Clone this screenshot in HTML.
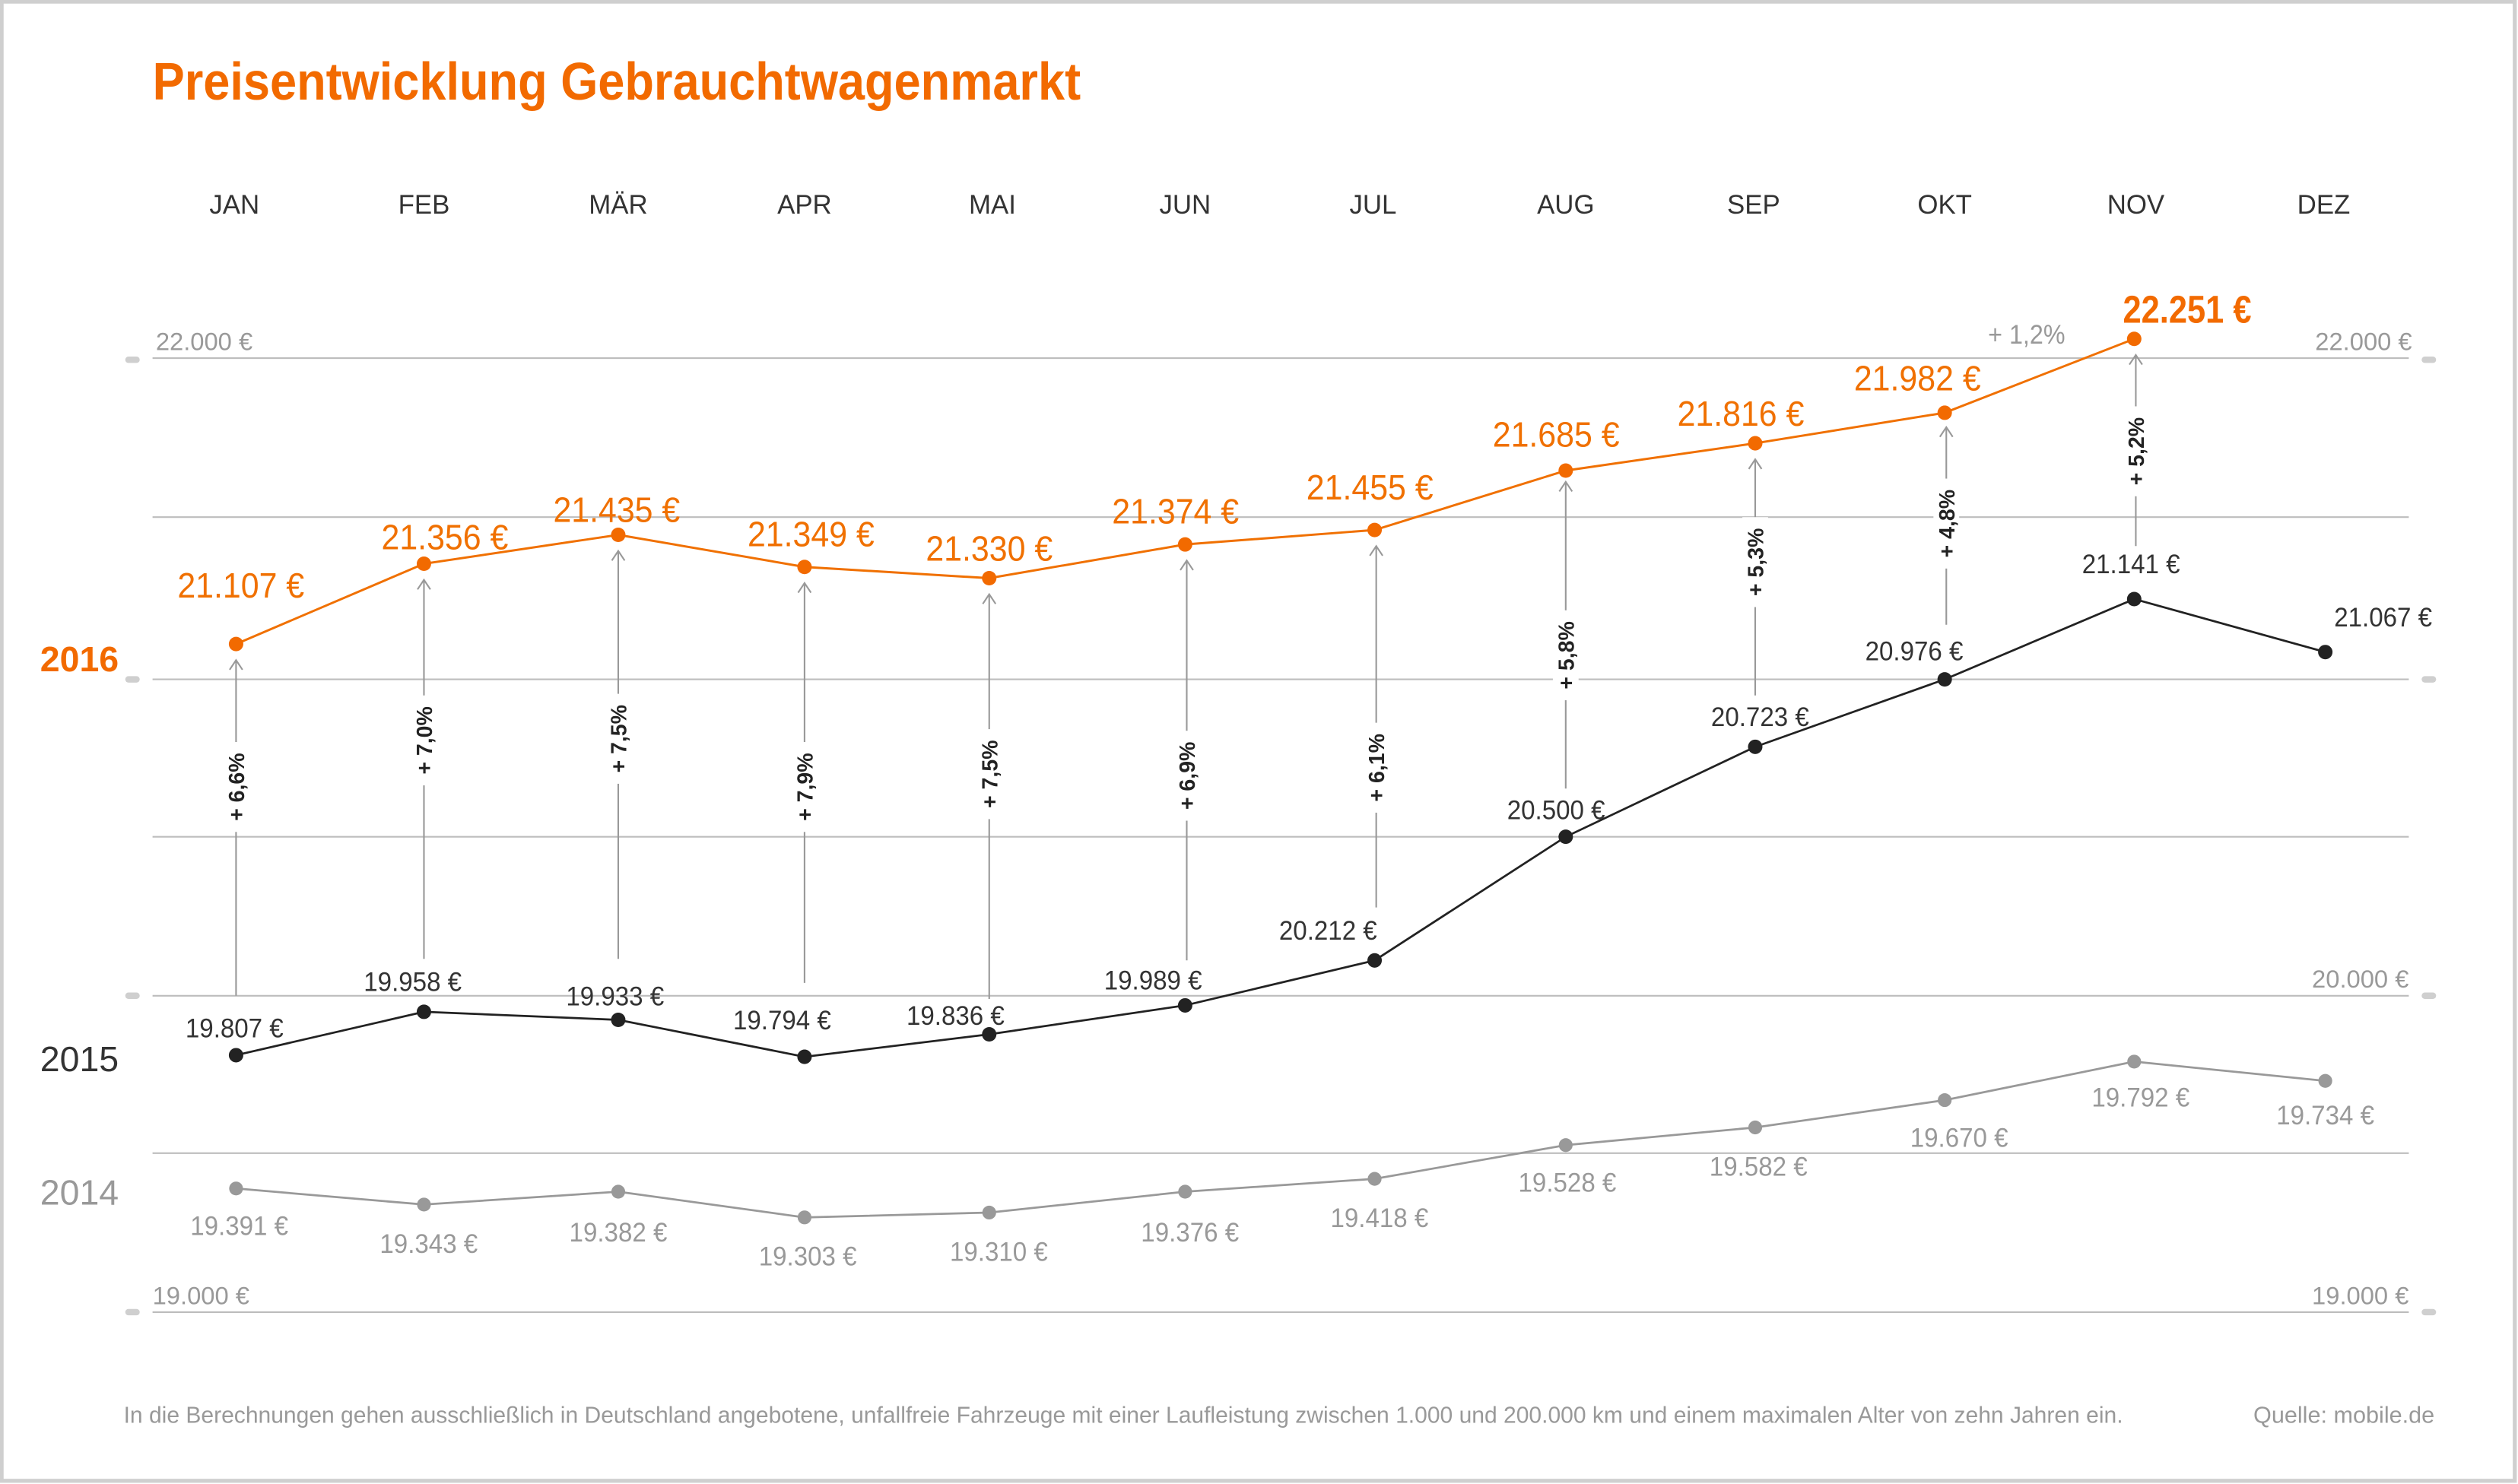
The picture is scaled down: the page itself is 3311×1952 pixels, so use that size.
<!DOCTYPE html>
<html><head><meta charset="utf-8"><style>
html,body{margin:0;padding:0;background:#fff;}
svg{display:block;}
text{font-family:"Liberation Sans Narrow","Liberation Sans",sans-serif;}
</style></head><body>
<svg width="3311" height="1952" viewBox="0 0 1568 924" preserveAspectRatio="none" xmlns="http://www.w3.org/2000/svg">
<rect x="0" y="0" width="1568" height="924" fill="#fff"/>
<rect x="1" y="1" width="1565" height="921" fill="none" stroke="#cfcfcf" stroke-width="2.5"/>
<text x="95" y="62" font-size="33" font-weight="bold" fill="#f26a00" textLength="578" lengthAdjust="spacingAndGlyphs">Preisentwicklung Gebrauchtwagenmarkt</text>
<g font-size="16.5" fill="#333" text-anchor="middle">
<text x="146" y="133">JAN</text><text x="264" y="133">FEB</text><text x="385" y="133">MÄR</text><text x="501" y="133">APR</text><text x="618" y="133">MAI</text><text x="738" y="133">JUN</text><text x="855" y="133">JUL</text><text x="975" y="133">AUG</text><text x="1092" y="133">SEP</text><text x="1211" y="133">OKT</text><text x="1330" y="133">NOV</text><text x="1447" y="133">DEZ</text>
</g>
<g stroke="#bdbdbd" stroke-width="1">
<line x1="95" y1="223" x2="1500" y2="223"/><line x1="95" y1="322" x2="1500" y2="322"/><line x1="95" y1="423" x2="1500" y2="423"/><line x1="95" y1="521" x2="1500" y2="521"/><line x1="95" y1="620" x2="1500" y2="620"/><line x1="95" y1="718" x2="1500" y2="718"/><line x1="95" y1="817" x2="1500" y2="817"/>
</g>
<g stroke="#cfcfcf" stroke-width="4" stroke-linecap="round">
<line x1="80" y1="224" x2="85" y2="224"/><line x1="80" y1="423" x2="85" y2="423"/><line x1="80" y1="620" x2="85" y2="620"/><line x1="80" y1="817" x2="85" y2="817"/>
<line x1="1510" y1="224" x2="1515" y2="224"/><line x1="1510" y1="423" x2="1515" y2="423"/><line x1="1510" y1="620" x2="1515" y2="620"/><line x1="1510" y1="817" x2="1515" y2="817"/>
</g>
<g font-size="15.5" fill="#999">
<text x="97" y="218">22.000 €</text><text x="1502" y="218" text-anchor="end">22.000 €</text>
<text x="1500" y="615" text-anchor="end">20.000 €</text>
<text x="95" y="812">19.000 €</text><text x="1500" y="812" text-anchor="end">19.000 €</text>
</g>
<text x="25" y="418" font-size="22" font-weight="bold" fill="#f26a00">2016</text>
<text x="25" y="667" font-size="22" fill="#333">2015</text>
<text x="25" y="750" font-size="22" fill="#999">2014</text>

<g stroke="#999" stroke-width="1" fill="none">
<line x1="147" y1="411" x2="147" y2="620"/><polyline points="143,417 147,411 151,417"/>
<line x1="264" y1="361" x2="264" y2="597"/><polyline points="260,367 264,361 268,367"/>
<line x1="385" y1="343" x2="385" y2="597"/><polyline points="381,349 385,343 389,349"/>
<line x1="501" y1="363" x2="501" y2="612"/><polyline points="497,369 501,363 505,369"/>
<line x1="616" y1="370" x2="616" y2="622"/><polyline points="612,376 616,370 620,376"/>
<line x1="739" y1="349" x2="739" y2="598"/><polyline points="735,355 739,349 743,355"/>
<line x1="857" y1="340" x2="857" y2="565"/><polyline points="853,346 857,340 861,346"/>
<line x1="975" y1="300" x2="975" y2="491"/><polyline points="971,306 975,300 979,306"/>
<line x1="1093" y1="286" x2="1093" y2="433"/><polyline points="1089,292 1093,286 1097,292"/>
<line x1="1212" y1="266" x2="1212" y2="389"/><polyline points="1208,272 1212,266 1216,272"/>
<line x1="1330" y1="221" x2="1330" y2="340"/><polyline points="1326,227 1330,221 1334,227"/>
</g>
<g fill="#fff">
<rect x="139" y="462" width="16" height="56"/><rect x="256" y="433" width="16" height="56"/><rect x="377" y="432" width="16" height="56"/><rect x="493" y="462" width="16" height="56"/><rect x="608" y="454" width="16" height="56"/><rect x="731" y="455" width="16" height="56"/><rect x="849" y="450" width="16" height="56"/><rect x="967" y="380" width="16" height="56"/><rect x="1085" y="322" width="16" height="56"/><rect x="1204" y="298" width="16" height="56"/><rect x="1322" y="253" width="16" height="56"/>
</g>
<g font-size="13.5" font-weight="bold" fill="#222" text-anchor="middle" font-family="Liberation Sans, sans-serif">
<text transform="translate(152,490) rotate(-90)">+ 6,6%</text>
<text transform="translate(269,461) rotate(-90)">+ 7,0%</text>
<text transform="translate(390,460) rotate(-90)">+ 7,5%</text>
<text transform="translate(506,490) rotate(-90)">+ 7,9%</text>
<text transform="translate(621,482) rotate(-90)">+ 7,5%</text>
<text transform="translate(744,483) rotate(-90)">+ 6,9%</text>
<text transform="translate(862,478) rotate(-90)">+ 6,1%</text>
<text transform="translate(980,408) rotate(-90)">+ 5,8%</text>
<text transform="translate(1098,350) rotate(-90)">+ 5,3%</text>
<text transform="translate(1217,326) rotate(-90)">+ 4,8%</text>
<text transform="translate(1335,281) rotate(-90)">+ 5,2%</text>
</g>

<polyline fill="none" stroke="#999" stroke-width="1.3" points="147,740 264,750 385,742 501,758 616,755 738,742 856,734 975,713 1093,702 1211,685 1329,661 1448,673"/>
<g fill="#999"><circle cx="147" cy="740" r="4.3"/><circle cx="264" cy="750" r="4.3"/><circle cx="385" cy="742" r="4.3"/><circle cx="501" cy="758" r="4.3"/><circle cx="616" cy="755" r="4.3"/><circle cx="738" cy="742" r="4.3"/><circle cx="856" cy="734" r="4.3"/><circle cx="975" cy="713" r="4.3"/><circle cx="1093" cy="702" r="4.3"/><circle cx="1211" cy="685" r="4.3"/><circle cx="1329" cy="661" r="4.3"/><circle cx="1448" cy="673" r="4.3"/></g>
<g font-size="16.5" fill="#999" text-anchor="middle">
<text x="149" y="769" textLength="61" lengthAdjust="spacingAndGlyphs">19.391 €</text><text x="267" y="780" textLength="61" lengthAdjust="spacingAndGlyphs">19.343 €</text><text x="385" y="773" textLength="61" lengthAdjust="spacingAndGlyphs">19.382 €</text><text x="503" y="788" textLength="61" lengthAdjust="spacingAndGlyphs">19.303 €</text><text x="622" y="785" textLength="61" lengthAdjust="spacingAndGlyphs">19.310 €</text><text x="741" y="773" textLength="61" lengthAdjust="spacingAndGlyphs">19.376 €</text><text x="859" y="764" textLength="61" lengthAdjust="spacingAndGlyphs">19.418 €</text><text x="976" y="742" textLength="61" lengthAdjust="spacingAndGlyphs">19.528 €</text><text x="1095" y="732" textLength="61" lengthAdjust="spacingAndGlyphs">19.582 €</text><text x="1220" y="714" textLength="61" lengthAdjust="spacingAndGlyphs">19.670 €</text><text x="1333" y="689" textLength="61" lengthAdjust="spacingAndGlyphs">19.792 €</text><text x="1448" y="700" textLength="61" lengthAdjust="spacingAndGlyphs">19.734 €</text>
</g>

<polyline fill="none" stroke="#222" stroke-width="1.3" points="147,657 264,630 385,635 501,658 616,644 738,626 856,598 975,521 1093,465 1211,423 1329,373 1448,406"/>
<g fill="#222"><circle cx="147" cy="657" r="4.5"/><circle cx="264" cy="630" r="4.5"/><circle cx="385" cy="635" r="4.5"/><circle cx="501" cy="658" r="4.5"/><circle cx="616" cy="644" r="4.5"/><circle cx="738" cy="626" r="4.5"/><circle cx="856" cy="598" r="4.5"/><circle cx="975" cy="521" r="4.5"/><circle cx="1093" cy="465" r="4.5"/><circle cx="1211" cy="423" r="4.5"/><circle cx="1329" cy="373" r="4.5"/><circle cx="1448" cy="406" r="4.5"/></g>
<g font-size="16.5" fill="#333" text-anchor="middle">
<text x="146" y="646" textLength="61" lengthAdjust="spacingAndGlyphs">19.807 €</text><text x="257" y="617" textLength="61" lengthAdjust="spacingAndGlyphs">19.958 €</text><text x="383" y="626" textLength="61" lengthAdjust="spacingAndGlyphs">19.933 €</text><text x="487" y="641" textLength="61" lengthAdjust="spacingAndGlyphs">19.794 €</text><text x="595" y="638" textLength="61" lengthAdjust="spacingAndGlyphs">19.836 €</text><text x="718" y="616" textLength="61" lengthAdjust="spacingAndGlyphs">19.989 €</text><text x="827" y="585" textLength="61" lengthAdjust="spacingAndGlyphs">20.212 €</text><text x="969" y="510" textLength="61" lengthAdjust="spacingAndGlyphs">20.500 €</text><text x="1096" y="452" textLength="61" lengthAdjust="spacingAndGlyphs">20.723 €</text><text x="1192" y="411" textLength="61" lengthAdjust="spacingAndGlyphs">20.976 €</text><text x="1327" y="357" textLength="61" lengthAdjust="spacingAndGlyphs">21.141 €</text><text x="1484" y="390" textLength="61" lengthAdjust="spacingAndGlyphs">21.067 €</text>
</g>

<polyline fill="none" stroke="#f07000" stroke-width="1.4" points="147,401 264,351 385,333 501,353 616,360 738,339 856,330 975,293 1093,276 1211,257 1329,211"/>
<g fill="#f26a00"><circle cx="147" cy="401" r="4.5"/><circle cx="264" cy="351" r="4.5"/><circle cx="385" cy="333" r="4.5"/><circle cx="501" cy="353" r="4.5"/><circle cx="616" cy="360" r="4.5"/><circle cx="738" cy="339" r="4.5"/><circle cx="856" cy="330" r="4.5"/><circle cx="975" cy="293" r="4.5"/><circle cx="1093" cy="276" r="4.5"/><circle cx="1211" cy="257" r="4.5"/><circle cx="1329" cy="211" r="4.5"/></g>
<g font-size="22" fill="#f07000" text-anchor="middle">
<text x="150" y="372" textLength="79" lengthAdjust="spacingAndGlyphs">21.107 €</text><text x="277" y="342" textLength="79" lengthAdjust="spacingAndGlyphs">21.356 €</text><text x="384" y="325" textLength="79" lengthAdjust="spacingAndGlyphs">21.435 €</text><text x="505" y="340" textLength="79" lengthAdjust="spacingAndGlyphs">21.349 €</text><text x="616" y="349" textLength="79" lengthAdjust="spacingAndGlyphs">21.330 €</text><text x="732" y="326" textLength="79" lengthAdjust="spacingAndGlyphs">21.374 €</text><text x="853" y="311" textLength="79" lengthAdjust="spacingAndGlyphs">21.455 €</text><text x="969" y="278" textLength="79" lengthAdjust="spacingAndGlyphs">21.685 €</text><text x="1084" y="265" textLength="79" lengthAdjust="spacingAndGlyphs">21.816 €</text><text x="1194" y="243" textLength="79" lengthAdjust="spacingAndGlyphs">21.982 €</text>
</g>
<text x="1362" y="201" font-size="24" font-weight="bold" fill="#f26a00" text-anchor="middle" textLength="80" lengthAdjust="spacingAndGlyphs">22.251 €</text>
<text x="1262" y="214" font-size="16.5" fill="#999" text-anchor="middle" textLength="48" lengthAdjust="spacingAndGlyphs">+ 1,2%</text>

<text x="77" y="886" font-size="14.5" fill="#999" textLength="1245" lengthAdjust="spacingAndGlyphs">In die Berechnungen gehen ausschließlich in Deutschland angebotene, unfallfreie Fahrzeuge mit einer Laufleistung zwischen 1.000 und 200.000 km und einem maximalen Alter von zehn Jahren ein.</text>
<text x="1516" y="886" font-size="14.5" fill="#999" text-anchor="end">Quelle: mobile.de</text>
</svg>
</body></html>
